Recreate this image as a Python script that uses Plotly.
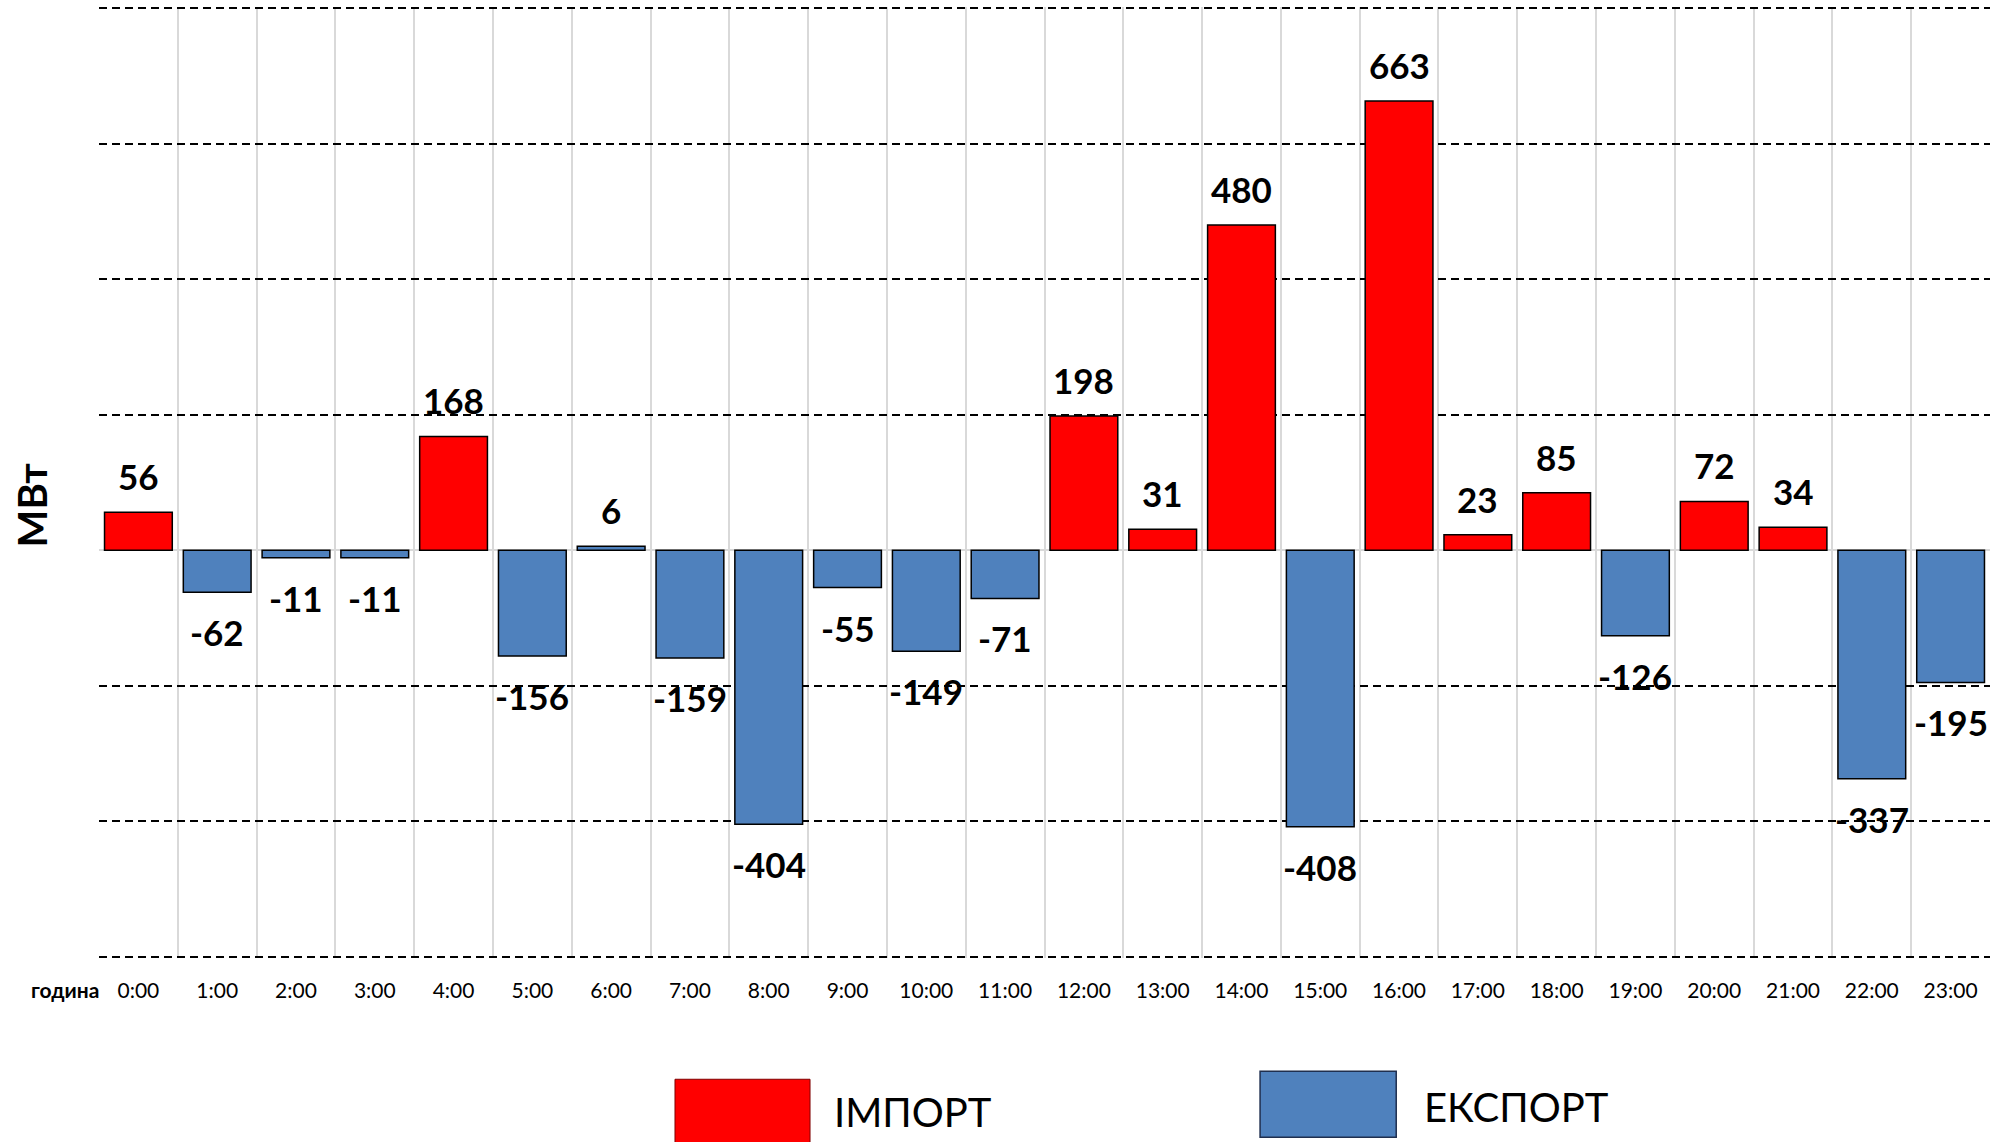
import plotly.graph_objects as go

hours = [f"{h}:00" for h in range(24)]
import_vals = [56, None, None, None, 168, None, None, None, None, None, None, None,
               198, 31, 480, None, 663, 23, 85, None, 72, 34, None, None]
export_vals = [None, -62, -11, -11, None, -156, 6, -159, -404, -55, -149, -71,
               None, None, None, -408, None, None, None, -126, None, None, -337, -195]
labels_vals = [56, -62, -11, -11, 168, -156, 6, -159, -404, -55, -149, -71,
               198, 31, 480, -408, 663, 23, 85, -126, 72, 34, -337, -195]
legend_names = ["ІМПОРТ", "ЕКСПОРТ"]
y_title = "МВт"
x_title = "година"

RED = "#ff0000"
BLUE = "#4f81bd"

fig = go.Figure()
fig.add_trace(go.Bar(x=hours, y=import_vals, name=legend_names[0],
                     marker=dict(color=RED, line=dict(color="black", width=1.5))))
fig.add_trace(go.Bar(x=hours, y=export_vals, name=legend_names[1],
                     marker=dict(color=BLUE, line=dict(color="black", width=1.5))))

annotations = []
for h, v in zip(hours, labels_vals):
    annotations.append(dict(
        x=h, y=v, xref="x", yref="y", text=str(v), showarrow=False,
        xanchor="center", yanchor="middle",
        yshift=36 if v > 0 else -40,
        font=dict(family="Lato", size=35, color="black", weight="bold"),
    ))

annotations.append(dict(x=-0.0354, y=0.476, xref="paper", yref="paper", text=y_title,
                        showarrow=False, textangle=-90, xanchor="center", yanchor="middle",
                        font=dict(family="Lato", size=40, color="black", weight="bold")))
annotations.append(dict(x=-0.018, y=-0.0327, xref="paper", yref="paper", text=x_title,
                        showarrow=False, xanchor="center", yanchor="middle",
                        font=dict(family="Lato", size=21, color="black", weight="bold")))
annotations.append(dict(x=0.3876, y=-0.1623, xref="paper", yref="paper", text=legend_names[0],
                        showarrow=False, xanchor="left", yanchor="middle",
                        font=dict(family="Lato", size=40, color="black")))
annotations.append(dict(x=0.6996, y=-0.157, xref="paper", yref="paper", text=legend_names[1],
                        showarrow=False, xanchor="left", yanchor="middle",
                        font=dict(family="Lato", size=40, color="black")))

shapes = [
    dict(type="rect", xref="paper", yref="paper", x0=0.3046, x1=0.376, y0=-0.21, y1=-0.1275,
         fillcolor=RED, line=dict(color="#7f0000", width=1)),
    dict(type="rect", xref="paper", yref="paper", x0=0.614, x1=0.686, y0=-0.1886, y1=-0.119,
         fillcolor=BLUE, line=dict(color="#1f2f4f", width=1.5)),
]

fig.update_layout(
    width=2010, height=1142,
    margin=dict(l=99, r=20, t=7, b=184),
    paper_bgcolor="white", plot_bgcolor="white",
    barmode="relative", bargap=0.14,
    showlegend=False,
    annotations=annotations, shapes=shapes,
    font=dict(family="Lato", color="black"),
)
fig.update_xaxes(type="category", tickson="boundaries", showgrid=True,
                 gridcolor="#d9d9d9", gridwidth=1.5, ticks="", showline=False,
                 tickfont=dict(family="Lato", size=21, color="black"),
                 ticklabelstandoff=18)
fig.update_yaxes(range=[-601.5, 801.5], dtick=200, tick0=0, showticklabels=False,
                 showgrid=True, gridcolor="black", gridwidth=1.6, griddash="8px,5px",
                 zeroline=True, zerolinecolor="#d9d9d9", zerolinewidth=2, showline=False)

fig.write_html("out.html", config={"displayModeBar": False})
with open("out.html", "r", encoding="utf-8") as f:
    html = f.read()
html = html.replace("<body>", "<body style=\"margin:0;padding:0;overflow:hidden\">", 1)
with open("out.html", "w", encoding="utf-8") as f:
    f.write(html)
